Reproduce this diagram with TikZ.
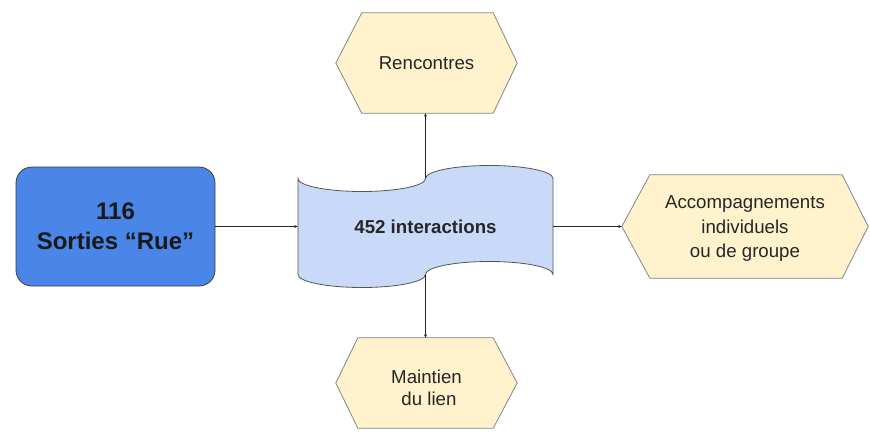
\documentclass[tikz,border=0pt]{standalone}
\usepackage{fontspec}
\setmainfont{Liberation Sans}
\usetikzlibrary{arrows.meta,backgrounds,calc}
\definecolor{boxblue}{HTML}{4A86E8}
\definecolor{boxline}{HTML}{3C3C3C}
\definecolor{wavefill}{HTML}{C9DAF8}
\definecolor{waveline}{HTML}{555555}
\definecolor{hexfill}{HTML}{FFF2CC}
\definecolor{hexline}{HTML}{858585}
\definecolor{textgray}{HTML}{262626}
\begin{document}
\begin{tikzpicture}[x=1pt,y=-1pt,
  txt/.style={font=\fontsize{18.67}{24}\selectfont, text=textgray, align=center, inner sep=0pt},
  frame/.style={inner sep=0pt},
  hexshape/.style={draw=hexline, fill=hexfill, line width=0.8pt, line join=round},
  conn/.style={draw=black!85, line width=0.8pt, -{Stealth[length=3.5pt,width=3pt]}}]
\useasboundingbox (0,0) rectangle (870,431);

% left box
\node[draw=boxline, fill=boxblue, line width=0.8pt, rounded corners=16pt,
      minimum width=199pt, minimum height=119pt, align=center, text=black!90,
      font=\bfseries\fontsize{24}{30}\selectfont] (sorties) at (115.5,226.5) {116\\Sorties “Rue”};

% central wave (punched tape)
\node[txt, font=\bfseries\fontsize{18.67}{24}\selectfont, minimum width=255pt, minimum height=96pt] (wave) at (425.5,226.5) {452 interactions};

% hexagon frames
\node[frame, minimum width=181pt, minimum height=100pt] (renc) at (426.5,63) {};
\node[frame, minimum width=246pt, minimum height=103pt] (accomp) at (745,226.5) {};
\node[frame, minimum width=181pt, minimum height=90pt] (maint) at (426.5,383) {};

% hexagon texts
\node[txt] (rencT) at (renc.center) {Rencontres};
\node[txt, font=\fontsize{18.67}{24.5}\selectfont] (accompT) at ([yshift=-2.5pt]accomp.center) {Accompagnements\\individuels\\ou de groupe};
\node[txt, font=\fontsize{18.67}{22.5}\selectfont] (maintT) at ([yshift=-5pt]maint.center) {Maintien\\\hspace*{5pt}du lien};

\begin{scope}[on background layer]
  \draw[draw=waveline, fill=wavefill, line width=0.8pt]
    (298,178.5) .. controls (298,185.7) and (326.7,191.5) .. (362,191.5)
    .. controls (397.3,191.5) and (425.5,185.7) .. (425.5,178.5)
    .. controls (425.5,171.3) and (454,165.5) .. (489.5,165.5)
    .. controls (525,165.5) and (553,171.3) .. (553,178.5)
    -- (553,274.5)
    .. controls (553,267.3) and (525,261.5) .. (489.5,261.5)
    .. controls (454,261.5) and (425.5,267.3) .. (425.5,274.5)
    .. controls (425.5,281.7) and (397.3,287.5) .. (362,287.5)
    .. controls (326.7,287.5) and (298,281.7) .. (298,274.5) -- cycle;
  \draw[hexshape] (renc.west) -- ([xshift=26pt]renc.north west) -- ([xshift=-24pt]renc.north east)
    -- (renc.east) -- ([xshift=-24pt]renc.south east) -- ([xshift=26pt]renc.south west) -- cycle;
  \draw[hexshape] (accomp.west) -- ([xshift=28pt]accomp.north west) -- ([xshift=-26pt]accomp.north east)
    -- (accomp.east) -- ([xshift=-26pt]accomp.south east) -- ([xshift=28pt]accomp.south west) -- cycle;
  \draw[hexshape] (maint.west) -- ([xshift=22pt]maint.north west) -- ([xshift=-24pt]maint.north east)
    -- (maint.east) -- ([xshift=-24pt]maint.south east) -- ([xshift=22pt]maint.south west) -- cycle;
\end{scope}

% connectors
\draw[conn] (sorties.east) -- (wave.west);
\draw[conn] (wave.east) -- (accomp.west);
\draw[conn] (wave.north) -- (wave.north |- renc.south);
\draw[conn] (wave.south) -- (wave.south |- maint.north);
\end{tikzpicture}
\end{document}
